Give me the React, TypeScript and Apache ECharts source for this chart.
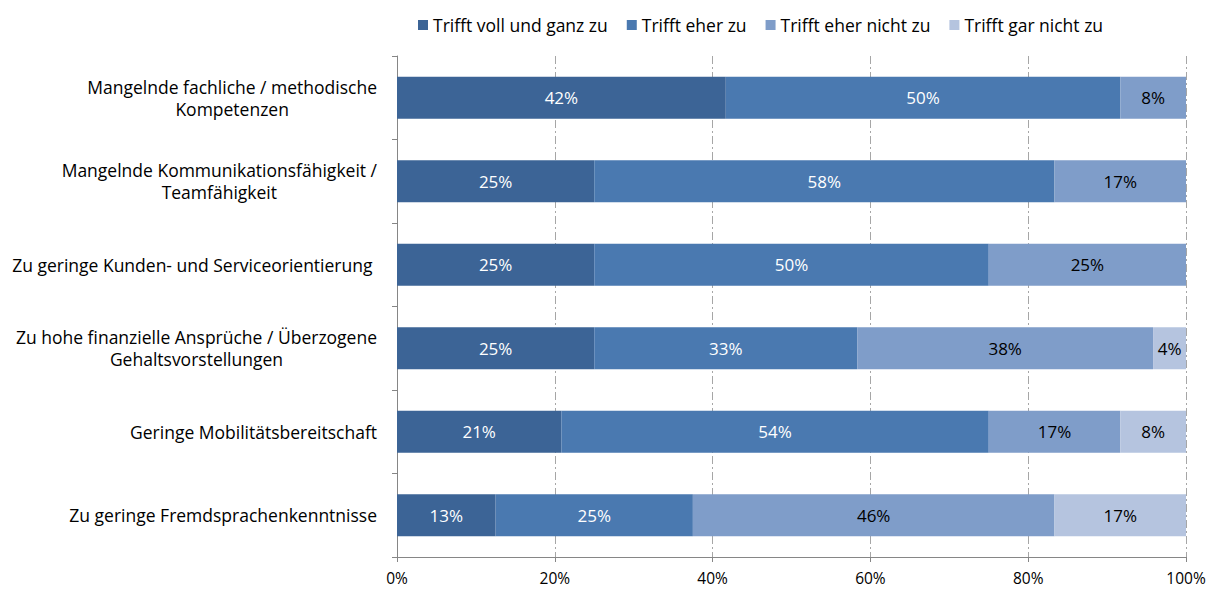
import React, { useEffect, useRef } from "react";
import * as echarts from "echarts";

const categories = [
  "Mangelnde fachliche / methodische\nKompetenzen",
  "Mangelnde Kommunikationsfähigkeit /\nTeamfähigkeit",
  "Zu geringe Kunden- und Serviceorientierung ",
  "Zu hohe finanzielle Ansprüche / Überzogene\nGehaltsvorstellungen",
  "Geringe Mobilitätsbereitschaft",
  "Zu geringe Fremdsprachenkenntnisse",
];
const seriesNames = ["Trifft voll und ganz zu", "Trifft eher zu", "Trifft eher nicht zu", "Trifft gar nicht zu"];
const vollUndGanz = [41.67, 25, 25, 25, 20.83, 12.5];
const eherZu = [50, 58.33, 50, 33.33, 54.17, 25];
const eherNicht = [8.33, 16.67, 25, 37.5, 16.67, 45.83];
const garNicht = [0, 0, 0, 4.17, 8.33, 16.67];
const xTicks = [0, 20, 40, 60, 80, 100];

const colors = ["#3C6496", "#4A79B0", "#7F9DC9", "#B5C4DF"];
const labelColors = ["#ffffff", "#ffffff", "#000000", "#000000"];
const FONT = "Open Sans";

export default function App() {
  const ref = useRef<HTMLDivElement>(null);
  useEffect(() => {
    document.body.style.margin = "0";
    const chart = echarts.init(ref.current!, null, { renderer: "svg" });
    const data = [vollUndGanz, eherZu, eherNicht, garNicht];
    chart.setOption({
      animation: false,
      textStyle: { fontFamily: FONT },
      legend: {
        top: 11,
        left: 413,
        itemWidth: 10,
        itemHeight: 10,
        itemGap: 19,
        itemTextGap: 4,
        icon: "rect",
        textStyle: { fontFamily: FONT, fontSize: 17.5, color: "#000" },
        data: seriesNames,
      },
      grid: { left: 397, right: 30, top: 56, bottom: 33, containLabel: false },
      xAxis: {
        type: "value",
        min: 0,
        max: 100,
        interval: 20,
        axisLine: { show: true, lineStyle: { color: "#868686" } },
        axisTick: { show: true, length: 5, lineStyle: { color: "#868686" } },
        axisLabel: {
          formatter: (v: number) => (xTicks.includes(v) ? v + "%" : ""),
          fontFamily: FONT,
          fontSize: 15.5,
          color: "#000",
          margin: 13,
        },
        splitLine: {
          show: true,
          lineStyle: { color: "#A6A6A6", type: [8, 3, 2, 3], width: 1 },
        },
      },
      yAxis: {
        type: "category",
        inverse: true,
        data: categories,
        axisLine: { show: true, lineStyle: { color: "#868686" } },
        axisTick: { show: true, length: 5, lineStyle: { color: "#868686" } },
        axisLabel: {
          margin: 20,
          fontFamily: FONT,
          fontSize: 17.5,
          color: "#000",
          lineHeight: 22,
          formatter: (v: string) =>
            v
              .split("\n")
              .map((l) => "{c|" + l + "}")
              .join("\n"),
          rich: { c: { align: "center", fontFamily: FONT, fontSize: 17.5, lineHeight: 22, color: "#000" } },
        },
        splitLine: { show: false },
      },
      series: seriesNames.map((name, i) => ({
        name,
        type: "bar",
        stack: "total",
        barWidth: 42,
        itemStyle: { color: colors[i] },
        label: {
          show: true,
          position: "inside",
          fontFamily: FONT,
          fontSize: 17,
          color: labelColors[i],
          formatter: (p: any) => (p.value > 0 ? Math.round(p.value) + "%" : ""),
        },
        data: data[i],
      })),
    });
    return () => chart.dispose();
  }, []);
  return <div ref={ref} style={{ width: 1216, height: 590 }} />;
}
